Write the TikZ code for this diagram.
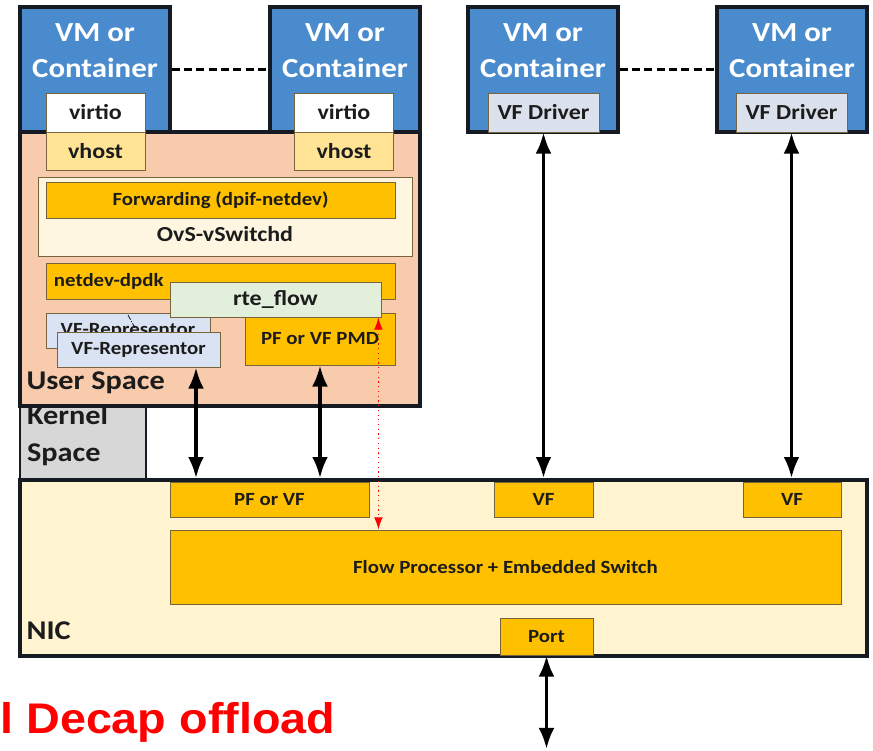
\documentclass[tikz,border=0pt]{standalone}
\usepackage{fontspec}
\setmainfont{Carlito}[FakeStretch=1.12]
\newfontfamily\bannerfont{Liberation Sans}[FakeStretch=1.09]
\usetikzlibrary{arrows.meta}

\definecolor{vmblue}{RGB}{74,139,206}
\definecolor{edge}{RGB}{22,26,34}
\definecolor{usrfill}{RGB}{248,203,173}
\definecolor{ovsfill}{RGB}{254,246,224}
\definecolor{gold}{RGB}{255,192,0}
\definecolor{goldedge}{RGB}{120,100,60}
\definecolor{paleyellow}{RGB}{255,228,150}
\definecolor{flowgreen}{RGB}{226,239,218}
\definecolor{repblue}{RGB}{218,227,243}
\definecolor{drvgray}{RGB}{218,224,236}
\definecolor{kernelgray}{RGB}{215,215,215}
\definecolor{nicfill}{RGB}{255,243,208}
\definecolor{ink}{RGB}{28,28,28}

\begin{document}
\begin{tikzpicture}[x=0.02cm, y=-0.02cm,
    frame/.style={draw=edge, line width=2.1pt, inner sep=0pt},
    part/.style={draw=goldedge, line width=0.5pt, inner sep=0pt, text=ink},
    big/.style={text=ink, font=\bfseries\fontsize{15.4}{21.5}\selectfont},
    med/.style={text=ink, font=\bfseries\fontsize{12.2}{14.6}\selectfont},
    sml/.style={text=ink, font=\bfseries\fontsize{10.6}{12.7}\selectfont},
    vmtext/.style={anchor=north, yshift=-0.36cm, align=center, text=white, inner sep=0pt,
                   font=\bfseries\fontsize{15.7}{20.4}\selectfont},
    link/.style={{Latex[length=12pt,width=9pt]}-{Latex[length=12pt,width=9pt]}, line width=2pt, draw=black},
    probe/.style={{Latex[length=7pt,width=5pt]}-{Latex[length=7pt,width=5pt]}, red, dotted, line width=0.7pt},
    tether/.style={draw=black, line width=1.9pt, dash pattern=on 4.5pt off 2.5pt}]
  \useasboundingbox (0,0) rectangle (873,751);

  % guests
  \node[frame, fill=vmblue, minimum width=3cm, minimum height=2.5cm,
        label={[vmtext]north:VM or\\Container}] (vm1) at (95,69.5) {};
  \node[frame, fill=vmblue, minimum width=3cm, minimum height=2.5cm,
        label={[vmtext]north:VM or\\Container}] (vm2) at (345,69.5) {};
  \node[frame, fill=vmblue, minimum width=3cm, minimum height=2.5cm,
        label={[vmtext]north:VM or\\Container}] (vm3) at (543,69.5) {};
  \node[frame, fill=vmblue, minimum width=3cm, minimum height=2.5cm,
        label={[vmtext]north:VM or\\Container}] (vm4) at (792,69.5) {};
  \draw[tether] (vm1.east) -- (vm2.west);
  \draw[tether] (vm3.east) -- (vm4.west);

  % kernel, NIC and user space
  \node[frame, line width=1.5pt, fill=kernelgray, minimum width=2.52cm, minimum height=1.48cm,
        label={[anchor=north west, xshift=0.16cm, yshift=0cm, inner sep=0pt, align=left, big]north west:Kernel\\Space}] (kern) at (83,443) {};
  \node[frame, fill=nicfill, minimum width=16.94cm, minimum height=3.52cm,
        label={[anchor=base west, xshift=0.16cm, yshift=0.36cm, inner sep=0pt, big]south west:NIC}] (nic) at (443.5,568) {};
  \node[frame, fill=usrfill, minimum width=8cm, minimum height=5.48cm,
        label={[anchor=base west, xshift=0.16cm, yshift=0.36cm, inner sep=0pt, big]south west:User Space}] (usr) at (220,269) {};

  % guest ports
  \node[part, fill=white, med, minimum width=1.98cm, minimum height=0.78cm] (virtio1) at (95.5,112.5) {virtio};
  \node[part, fill=paleyellow, med, minimum width=1.98cm, minimum height=0.76cm] (vhost1) at (95.5,151) {vhost};
  \node[part, fill=white, med, minimum width=1.98cm, minimum height=0.78cm] (virtio2) at (344,112.5) {virtio};
  \node[part, fill=paleyellow, med, minimum width=1.98cm, minimum height=0.76cm] (vhost2) at (344,151) {vhost};
  \node[part, fill=drvgray, med, minimum width=2.22cm, minimum height=0.78cm] (vfd1) at (543.5,112.5) {VF Driver};
  \node[part, fill=drvgray, med, minimum width=2.22cm, minimum height=0.78cm] (vfd2) at (791.5,112.5) {VF Driver};

  % OvS
  \node[part, fill=ovsfill, minimum width=7.48cm, minimum height=1.58cm,
        label={[anchor=south, yshift=0.28cm, inner sep=0pt, med]south:OvS-vSwitchd}] (ovs) at (225,216.5) {};
  \node[part, fill=gold, sml, minimum width=6.98cm, minimum height=0.72cm] (fwd) at (220.5,200) {Forwarding (dpif-netdev)};
  \node[part, fill=gold, minimum width=6.98cm, minimum height=0.72cm,
        label={[anchor=west, xshift=0.16cm, inner sep=0pt, sml]west:netdev-dpdk}] (netdev) at (220.5,281) {};
  \node[part, fill=repblue, sml, minimum width=3.28cm, minimum height=0.70cm] (reprear) at (128,330.5) {VF-Representor};
  \draw[densely dashdotted, line width=0.4pt] (128,315) -- (135,328);
  \node[part, fill=gold, sml, minimum width=3cm, minimum height=1.04cm] (pmd) at (320,339) {PF or VF PMD};
  \node[part, fill=flowgreen, med, minimum width=4.22cm, minimum height=0.70cm] (rteflow) at (275.5,299.5) {rte\_flow};
  \node[part, fill=repblue, sml, minimum width=3.26cm, minimum height=0.70cm] (repfront) at (138.5,349.5) {VF-Representor};

  % NIC parts
  \node[part, fill=gold, sml, minimum width=3.98cm, minimum height=0.70cm] (pfvf) at (269.5,499.5) {PF or VF};
  \node[part, fill=gold, sml, minimum width=1.98cm, minimum height=0.70cm] (vfa) at (543.5,499.5) {VF};
  \node[part, fill=gold, sml, minimum width=1.96cm, minimum height=0.70cm] (vfb) at (792,499.5) {VF};
  \node[part, fill=gold, sml, minimum width=13.42cm, minimum height=1.48cm] (flowproc) at (505.5,567) {Flow Processor + Embedded Switch};
  \node[part, fill=gold, sml, minimum width=1.86cm, minimum height=0.74cm] (port) at (546.5,636.5) {Port};
  \coordinate (wire) at (546.5,749);

  % links
  \draw[link] ([xshift=1.15cm]repfront.south) -- ([xshift=1.15cm]repfront.south |- nic.north);
  \draw[link] (pmd.south) -- (pmd.south |- nic.north);
  \draw[link] (vfd1.south) -- (vfd1.south |- nic.north);
  \draw[link] (vfd2.south) -- (vfd2.south |- nic.north);
  \draw[link] (port.south) -- (wire);
  \draw[probe] ([xshift=-0.06cm]rteflow.south east) -- ([xshift=-0.06cm]rteflow.south east |- flowproc.north);

  \node[anchor=base west, inner sep=0pt, text=red, font=\bannerfont\bfseries\fontsize{24.4}{29}\selectfont] (decap) at (0,733) {l Decap offload};
\end{tikzpicture}
\end{document}
